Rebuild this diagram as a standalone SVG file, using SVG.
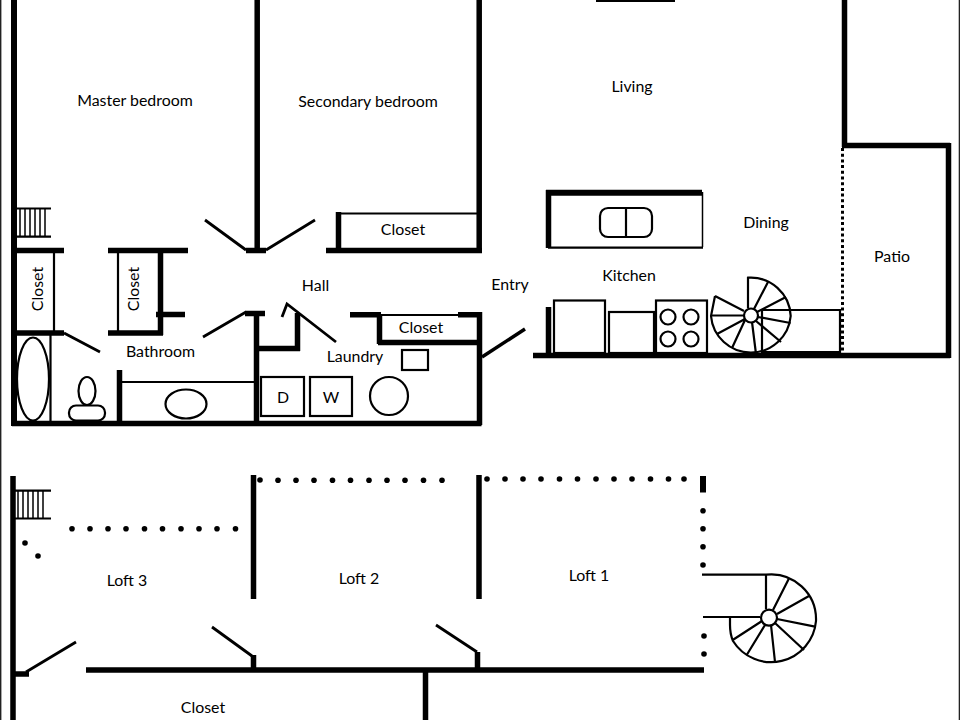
<svg xmlns="http://www.w3.org/2000/svg" width="960" height="720" viewBox="0 0 960 720">
<style>
text{font-family:"Lato","Liberation Sans",sans-serif;font-size:15.9px;fill:#000;text-anchor:middle}
.w{stroke:#000;stroke-width:5.5;fill:none}
.d{stroke:#000;stroke-width:2.8;fill:none}
.t{stroke:#000;stroke-width:2.2;fill:none}
.h{stroke:#000;stroke-width:1.5;fill:none}
.dot{fill:#000}
</style>
<defs>
<g id="treads"><path class="h" d="M0 0V27M5 0V27M10 0V27M15 0V27M20 0V27M25 0V27"/></g>
</defs>
<rect width="960" height="720" fill="#fff"/>
<path d="M0.700 0V720M959.400 0V720" stroke="#222" stroke-width="1.400" fill="none"/>
<g id="walls-main">
<path d="M14 0V426" stroke="#000" stroke-width="6" fill="none"/>
<path class="w" d="M12 423.500H481.500M257.200 0V250M246 250.500H266M479.200 0V252M326 250.500H482M338.500 212V250"/>
<path class="w" d="M14 250.500H64M108 250.500H188M14 333H64M108 333H163M160.500 250V335M156 314.500H185"/>
<path class="w" d="M245 313.500H265M256.500 313V423M256 348.500H300M297.500 313V351M350 314.700H381M379.500 314V344M378 342.500H481M458 314.700H482M479.500 312V425M119.500 370V423"/>
<path class="w" d="M844.500 0V147M842 145.500H950M948.500 143V358M533 355.500H950M548.500 190V248M548.500 307V355"/>
<path d="M546 192.700H702" stroke="#000" stroke-width="6"/>
<path class="t" d="M54 250V333M118 250V333M50.500 333V423M122 382H254M340 213.500H478M380 315H460"/>
<path d="M596 1H675" stroke="#000" stroke-width="2" fill="none"/>
<path class="t" d="M548 247.700H703"/><path class="h" d="M702.500 192V247"/>
<path d="M842.500 148V353" stroke="#000" stroke-width="3" stroke-dasharray="3 2.700" fill="none"/>
</g>
<g id="doors-main">
<path class="d" d="M205 220L246 250M266 250L315 220M64 333L100 352M203 337L246 312M282 317L287 304L336 342"/>
<path d="M482 357L525 329" stroke="#000" stroke-width="3.500"/>
</g>
<g id="stairs-main">
<path class="t" d="M17 208.500H51M17 236.700H51"/>
<use href="#treads" x="20" y="209"/>
</g>
<g id="fixtures-main">
<ellipse class="t" cx="33" cy="379" rx="16" ry="41.500"/>
<ellipse class="t" cx="87" cy="391" rx="8.500" ry="14"/>
<rect class="t" x="69" y="405.500" width="36" height="15" rx="7"/>
<ellipse class="t" cx="186" cy="404" rx="20.500" ry="14.500"/>
<rect class="t" x="402" y="350" width="26" height="20"/>
<circle class="t" cx="389" cy="396" r="19"/>
<rect class="t" x="261" y="377" width="43" height="39"/>
<rect class="t" x="310" y="377" width="42" height="39"/>
<rect class="t" x="600" y="208" width="52" height="29" rx="8"/>
<path class="t" d="M626 208V237"/>
<rect class="t" x="554" y="300.500" width="51" height="52.500"/>
<rect class="t" x="609" y="312" width="45" height="41"/>
<rect class="t" x="656" y="300.500" width="51" height="52.500"/>
<circle class="t" cx="668" cy="317" r="7.500"/><circle class="t" cx="691" cy="317" r="7.500"/>
<circle class="t" cx="668" cy="339" r="7.500"/><circle class="t" cx="691" cy="339" r="7.500"/>
<path class="t" d="M762 355V310H840V352H762"/>
</g>
<g id="spiral-main">
<path class="t" d="M715 296L711 316A40 40 0 0 0 790.700 316A40 40 0 0 0 748 277.700V308"/>
<path class="t" d="M715 296L744 311"/>
<circle cx="751" cy="315.500" r="7" fill="#fff" stroke="#000" stroke-width="2.200"/>
<path class="t" d="M754 309L768 282M757 312L786 297M758 317L790.500 323M756 321L781 342M752 322L756 354M745 320L732 348M745 319L717 334M744 315.500H712"/>
</g>
<g id="walls-loft">
<path class="w" d="M13 476V720M253.500 475V599M479 475V599M86 670H704M253.500 655V670M477.500 652V670M425.500 670V720M15 674H29"/>
<path d="M703 476V492.500" stroke="#000" stroke-width="6"/>
</g>
<g id="doors-loft">
<path class="d" d="M26 672L76 642M212 627L252 656M436 625L477 652"/>
</g>
<g id="stairs-loft">
<path class="t" d="M15 490.700H51M15 518.500H51"/>
<use href="#treads" x="18" y="491"/>
</g>
<g id="dots" class="dot">
<circle cx="72" cy="528.700" r="2.800"/><circle cx="90" cy="528.700" r="2.800"/><circle cx="108" cy="528.700" r="2.800"/><circle cx="126" cy="528.700" r="2.800"/><circle cx="144.500" cy="528.700" r="2.800"/><circle cx="162.500" cy="528.700" r="2.800"/><circle cx="181" cy="528.700" r="2.800"/><circle cx="199" cy="528.700" r="2.800"/><circle cx="217" cy="528.700" r="2.800"/><circle cx="235.500" cy="528.700" r="2.800"/>
<circle cx="25" cy="543" r="2.800"/><circle cx="38" cy="556" r="2.800"/>
<circle cx="260" cy="480" r="2.800"/><circle cx="278" cy="480.300" r="2.800"/><circle cx="296" cy="480.300" r="2.800"/><circle cx="314" cy="480.300" r="2.800"/><circle cx="332.500" cy="480.300" r="2.800"/><circle cx="350.500" cy="480.300" r="2.800"/><circle cx="369" cy="480.300" r="2.800"/><circle cx="387" cy="480.300" r="2.800"/><circle cx="405" cy="480.300" r="2.800"/><circle cx="423.500" cy="480.300" r="2.800"/><circle cx="442" cy="480.300" r="2.800"/>
<circle cx="487" cy="479" r="2.800"/><circle cx="505" cy="479" r="2.800"/><circle cx="523" cy="479" r="2.800"/><circle cx="541" cy="479" r="2.800"/><circle cx="559.500" cy="479" r="2.800"/><circle cx="577.500" cy="479" r="2.800"/><circle cx="596" cy="479" r="2.800"/><circle cx="614" cy="479" r="2.800"/><circle cx="632" cy="479" r="2.800"/><circle cx="650.500" cy="479" r="2.800"/><circle cx="668.500" cy="479" r="2.800"/><circle cx="684" cy="479" r="2.800"/>
<circle cx="703" cy="510.700" r="2.800"/><circle cx="703" cy="528.700" r="2.800"/><circle cx="703" cy="546.700" r="2.800"/><circle cx="703" cy="565" r="2.800"/>
<circle cx="704" cy="636" r="2.800"/><circle cx="704" cy="654" r="2.800"/>
</g>
<g id="spiral-loft">
<path class="t" d="M702 574.700H766V609M703 617H760M730 617V625Q730 634 733 641A45 45 0 0 0 816 621A45 45 0 0 0 766 574.700"/>
<circle cx="769" cy="617.700" r="8" fill="#fff" stroke="#000" stroke-width="2.200"/>
<path class="t" d="M773 610L788.700 579M777 614L809 596M777 619L815 626.700M775 623L804 650M771 625L775 662M765 625L746.700 655M762 621L732.700 640"/>
</g>
<g id="labels">
<text x="135" y="106">Master bedroom</text>
<text x="368" y="107">Secondary bedroom</text>
<text x="632" y="92">Living</text>
<text x="766" y="228">Dining</text>
<text x="892" y="262">Patio</text>
<text x="629" y="281">Kitchen</text>
<text x="403" y="235">Closet</text>
<text x="421" y="333">Closet</text>
<text x="315.500" y="291">Hall</text>
<text x="510" y="290">Entry</text>
<text x="355" y="362">Laundry</text>
<text x="160.500" y="357">Bathroom</text>
<text x="283" y="403">D</text>
<text x="331" y="403">W</text>
<text transform="translate(43 289) rotate(-90)">Closet</text>
<text transform="translate(139 289) rotate(-90)">Closet</text>
<text x="127" y="586">Loft 3</text>
<text x="359" y="584">Loft 2</text>
<text x="589" y="581">Loft 1</text>
<text x="203" y="713">Closet</text>
</g>
</svg>
